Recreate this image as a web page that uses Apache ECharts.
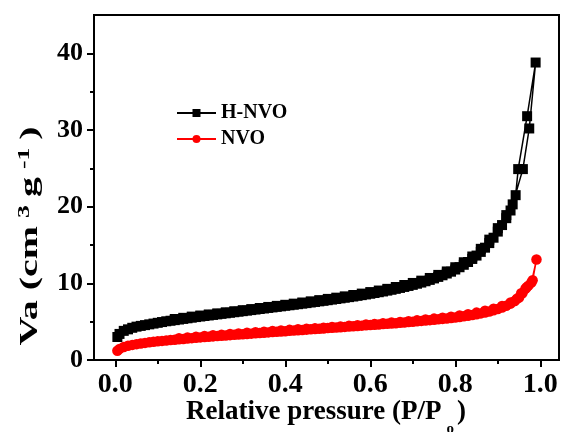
<!DOCTYPE html>
<html>
<head>
<meta charset="utf-8">
<script src="https://cdn.jsdelivr.net/npm/echarts@6/dist/echarts.min.js"></script>
<style>html,body{margin:0;padding:0;background:#fff}#c{width:561px;height:432px}</style>
</head>
<body>
<div id="c"></div>
<script>
// ---- data ----
var seriesNames = ['H-NVO', 'NVO'];
var xMajorTicks = [0, 0.2, 0.4, 0.6, 0.8, 1.0];
var xMinorTicks = [0.1, 0.3, 0.5, 0.7, 0.9];
var yMajorTicks = [0, 10, 20, 30, 40];
var yMinorTicks = [5, 15, 25, 35];

var hnvoAdsorption = [
  [0.005,3.0],[0.01,3.4],[0.02,3.8],[0.03,4.0],[0.04,4.2],[0.05,4.35],[0.06,4.45],[0.07,4.55],
  [0.08,4.65],[0.09,4.75],[0.10,4.85],[0.11,4.95],[0.12,5.05],[0.13,5.12],[0.14,5.2],[0.15,5.28],
  [0.16,5.36],[0.17,5.44],[0.18,5.52],[0.19,5.6],[0.20,5.67],[0.21,5.74],[0.22,5.81],[0.23,5.88],
  [0.24,5.95],[0.25,6.02],[0.26,6.09],[0.27,6.16],[0.28,6.23],[0.29,6.3],[0.30,6.37],[0.31,6.44],
  [0.32,6.51],[0.33,6.58],[0.34,6.65],[0.35,6.72],[0.36,6.79],[0.37,6.86],[0.38,6.93],[0.39,7.0],
  [0.40,7.07],[0.41,7.14],[0.42,7.21],[0.43,7.28],[0.44,7.35],[0.45,7.42],[0.46,7.5],[0.47,7.57],
  [0.48,7.65],[0.49,7.72],[0.50,7.8],[0.51,7.88],[0.52,7.96],[0.53,8.04],[0.54,8.12],[0.55,8.2],
  [0.56,8.28],[0.57,8.37],[0.58,8.46],[0.59,8.55],[0.60,8.64],[0.61,8.74],[0.62,8.84],[0.63,8.94],
  [0.64,9.05],[0.65,9.16],[0.66,9.28],[0.67,9.4],[0.68,9.53],[0.69,9.66],[0.70,9.8],[0.71,9.95],
  [0.72,10.1],[0.73,10.27],[0.74,10.45],[0.75,10.64],[0.76,10.84],[0.77,11.05],[0.78,11.28],[0.79,11.52],
  [0.80,11.8],[0.81,12.1],[0.82,12.42],[0.83,12.78],[0.84,13.18],[0.85,13.62],[0.86,14.1],[0.87,14.65],
  [0.88,15.25],[0.89,15.95],[0.90,16.75],[0.91,17.6],[0.92,18.5],[0.93,19.5],[0.942,21.5],[0.948,24.9],
  [0.969,31.8],[0.989,38.8]
];
var hnvoDesorption = [
  [0.974,30.2],[0.959,24.9],[0.935,20.3],[0.92,18.9],[0.90,17.2],[0.88,15.7],[0.86,14.5],[0.84,13.5],
  [0.82,12.75],[0.80,12.1],[0.78,11.55],[0.76,11.1],[0.74,10.7],[0.72,10.35],[0.70,10.05],[0.68,9.78],
  [0.66,9.52],[0.64,9.28],[0.62,9.06],[0.60,8.86],[0.58,8.66],[0.56,8.48],[0.54,8.3],[0.52,8.13],
  [0.50,7.97],[0.48,7.81],[0.46,7.65],[0.44,7.5],[0.42,7.35],[0.40,7.2],[0.38,7.06],[0.36,6.92],
  [0.34,6.78],[0.32,6.64],[0.30,6.5],[0.28,6.36],[0.26,6.22],[0.24,6.08],[0.22,5.94],[0.20,5.8],
  [0.18,5.66],[0.16,5.5],[0.14,5.35]
];
var nvoAdsorption = [
  [0.005,1.2],[0.01,1.45],[0.02,1.7],[0.03,1.85],[0.04,1.97],[0.05,2.07],[0.06,2.15],[0.07,2.23],
  [0.08,2.3],[0.09,2.37],[0.10,2.43],[0.11,2.49],[0.12,2.55],[0.13,2.6],[0.14,2.65],[0.15,2.7],
  [0.16,2.75],[0.17,2.8],[0.18,2.85],[0.19,2.9],[0.20,2.95],[0.21,3.0],[0.22,3.04],[0.23,3.08],
  [0.24,3.12],[0.25,3.16],[0.26,3.2],[0.27,3.24],[0.28,3.28],[0.29,3.32],[0.30,3.36],[0.31,3.4],
  [0.32,3.44],[0.33,3.48],[0.34,3.52],[0.35,3.56],[0.36,3.6],[0.37,3.64],[0.38,3.68],[0.39,3.72],
  [0.40,3.76],[0.41,3.8],[0.42,3.84],[0.43,3.88],[0.44,3.92],[0.45,3.96],[0.46,4.0],[0.47,4.04],
  [0.48,4.08],[0.49,4.12],[0.50,4.16],[0.51,4.2],[0.52,4.24],[0.53,4.28],[0.54,4.32],[0.55,4.36],
  [0.56,4.4],[0.57,4.44],[0.58,4.48],[0.59,4.52],[0.60,4.56],[0.61,4.6],[0.62,4.64],[0.63,4.68],
  [0.64,4.72],[0.65,4.76],[0.66,4.8],[0.67,4.85],[0.68,4.9],[0.69,4.95],[0.70,5.0],[0.71,5.05],
  [0.72,5.1],[0.73,5.15],[0.74,5.2],[0.75,5.25],[0.76,5.3],[0.77,5.36],[0.78,5.42],[0.79,5.48],
  [0.80,5.55],[0.81,5.62],[0.82,5.7],[0.83,5.78],[0.84,5.87],[0.85,5.97],[0.86,6.08],[0.87,6.2],
  [0.88,6.33],[0.89,6.48],[0.90,6.65],[0.91,6.85],[0.92,7.08],[0.93,7.35],[0.94,7.7],[0.95,8.15],
  [0.958,8.7],[0.965,9.3],[0.972,9.7],[0.979,10.1],[0.991,13.1]
];
var nvoDesorption = [
  [0.982,10.4],[0.968,9.5],[0.955,8.7],[0.945,8.0],[0.93,7.5],[0.91,7.05],[0.89,6.7],[0.87,6.42],
  [0.85,6.18],[0.83,5.98],[0.81,5.8],[0.79,5.65],[0.77,5.52],[0.75,5.4],[0.73,5.28],[0.71,5.17],
  [0.69,5.07],[0.67,4.97],[0.65,4.88],[0.63,4.79],[0.61,4.7],[0.59,4.62],[0.57,4.54],[0.55,4.46],
  [0.53,4.38],[0.51,4.3],[0.49,4.22],[0.47,4.15],[0.45,4.08],[0.43,4.0],[0.41,3.93],[0.39,3.85],
  [0.37,3.78],[0.35,3.7],[0.33,3.62],[0.31,3.55],[0.29,3.47],[0.27,3.39],[0.25,3.3],[0.23,3.22],
  [0.21,3.13],[0.19,3.04],[0.17,2.95],[0.15,2.85]
];

// ---- chart ----
var FONT = '"Liberation Serif", "Times New Roman", serif';
var chart = echarts.init(document.getElementById('c'), null, {renderer: 'canvas'});

function baseX(extra) {
  return Object.assign({
    type: 'value', min: -0.05, max: 1.044, gridIndex: 0, position: 'bottom',
    splitLine: {show: false}
  }, extra);
}
function baseY(extra) {
  return Object.assign({
    type: 'value', min: 0, max: 45, gridIndex: 0, position: 'left',
    splitLine: {show: false}
  }, extra);
}
var tickLine = {color: '#000', width: 2};

var option = {
  animation: false,
  backgroundColor: '#fff',
  grid: {left: 94, right: 2, top: 15, bottom: 72, show: true,
         borderColor: '#000', borderWidth: 2, backgroundColor: 'transparent'},
  legend: {
    data: seriesNames,
    orient: 'vertical', left: 176, top: 103, itemGap: 6, padding: 0,
    itemWidth: 39, itemHeight: 10,
    textStyle: {fontFamily: FONT, fontWeight: 'bold', fontSize: 20, color: '#000'}
  },
  xAxis: [
    baseX({
      axisLine: {show: true, onZero: false, lineStyle: {color: '#000', width: 2}},
      axisTick: {show: true, inside: false, length: 7, lineStyle: tickLine, customValues: xMajorTicks},
      axisLabel: {show: true, margin: 11, customValues: xMajorTicks, color: '#000',
                  fontFamily: FONT, fontWeight: 'bold', fontSize: 28,
                  formatter: function (v) { return v.toFixed(1); }}
    }),
    baseX({
      axisLine: {show: false, onZero: false},
      axisTick: {show: true, inside: false, length: 4, lineStyle: tickLine, customValues: xMinorTicks},
      axisLabel: {show: false}
    })
  ],
  yAxis: [
    baseY({
      axisLine: {show: true, onZero: false, lineStyle: {color: '#000', width: 2}},
      axisTick: {show: true, inside: false, length: 7, lineStyle: tickLine, customValues: yMajorTicks},
      axisLabel: {show: true, margin: 11, customValues: yMajorTicks, color: '#000',
                  fontFamily: FONT, fontWeight: 'bold', fontSize: 26}
    }),
    baseY({
      axisLine: {show: false, onZero: false},
      axisTick: {show: true, inside: false, length: 4, lineStyle: tickLine, customValues: yMinorTicks},
      axisLabel: {show: false}
    })
  ],
  series: [
    {
      name: seriesNames[0], type: 'line', xAxisIndex: 0, yAxisIndex: 0,
      data: hnvoAdsorption.concat(hnvoDesorption),
      symbol: 'rect', symbolSize: 10, showAllSymbol: true,
      lineStyle: {color: '#000', width: 1.5},
      itemStyle: {color: '#000'}
    },
    {
      name: seriesNames[1], type: 'line', xAxisIndex: 0, yAxisIndex: 0,
      data: nvoAdsorption.concat(nvoDesorption),
      symbol: 'circle', symbolSize: 10.5, showAllSymbol: true,
      lineStyle: {color: '#ff0000', width: 1.5},
      itemStyle: {color: '#ff0000'}
    }
  ],
  graphic: [
    {
      type: 'text', left: 186, top: 399,
      style: {
        text: '{b|Relative pressure (P/P}{s|o}{b|)}',
        rich: {
          b: {fontFamily: FONT, fontWeight: 'bold', fontSize: 27, fill: '#000', lineHeight: 28, verticalAlign: 'top'},
          s: {fontFamily: FONT, fontWeight: 'bold', fontSize: 15, fill: '#000', padding: [23, 3, 0, 5], verticalAlign: 'top'}
        }
      }
    },
    {
      type: 'text', x: 30, y: 236, rotation: Math.PI / 2, scaleX: 1.6, scaleY: 1,
      style: {
        text: '{b|Va (cm}{p|3}{b|g}{p|-1}{b|)}',
        align: 'center', verticalAlign: 'middle',
        rich: {
          b: {fontFamily: FONT, fontWeight: 'bold', fontSize: 25, fill: '#000', lineHeight: 27, verticalAlign: 'bottom'},
          p: {fontFamily: FONT, fontWeight: 'bold', fontSize: 16, fill: '#000', padding: [0, 5, 10, 5], verticalAlign: 'top'}
        }
      }
    }
  ]
};
chart.setOption(option);
</script>
</body>
</html>
